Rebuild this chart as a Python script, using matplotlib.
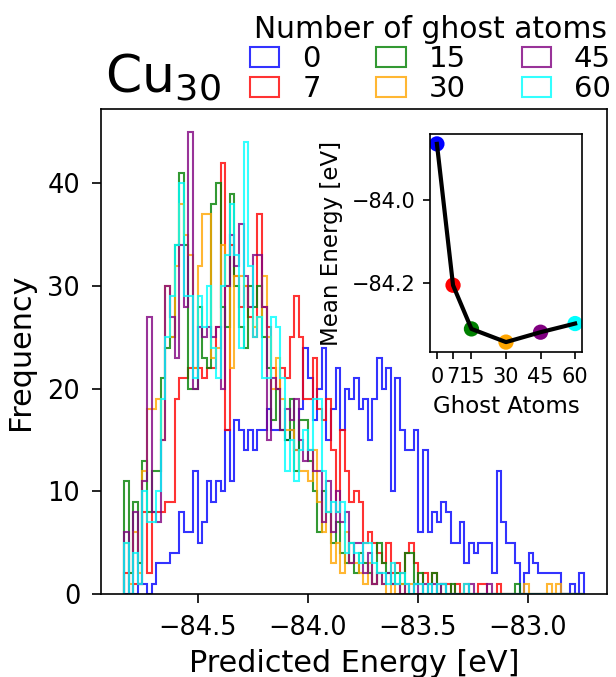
import matplotlib.pyplot as plt
import numpy as np

# common histogram grid (eV), 100 bins
e_lo, e_hi = -84.835, -82.745
n_bins = 100

ghost = [0, 7, 15, 30, 45, 60]
colors = ['blue', 'red', 'green', 'orange', 'purple', 'cyan']

# counts per bin
counts_0 = [0, 0, 0, 1, 1, 0, 1, 3, 3, 3,
            4, 4, 8, 6, 6, 12, 5, 7, 11, 9,
            11, 10, 16, 11, 17, 16, 14, 16, 14, 16,
            16, 18, 16, 16, 16, 15, 16, 14, 18, 24,
            21, 17, 20, 24, 15, 18, 22, 16, 20, 19,
            21, 18, 19, 15, 19, 23, 20, 22, 10, 21,
            16, 14, 14, 16, 6, 14, 6, 8, 7, 9,
            8, 5, 5, 7, 3, 5, 4, 5, 5, 5,
            2, 12, 7, 5, 5, 3, 0, 2, 4, 3,
            2, 2, 2, 2, 2, 0, 0, 1, 0, 2]
counts_7 = [2, 0, 1, 1, 8, 2, 8, 8, 8, 9,
            9, 19, 21, 21, 22, 22, 22, 21, 22, 22,
            26, 42, 16, 34, 31, 28, 30, 27, 25, 37,
            28, 26, 22, 20, 22, 21, 25, 29, 25, 19,
            19, 23, 18, 17, 19, 14, 8, 16, 12, 9,
            10, 9, 5, 6, 5, 4, 3, 5, 2, 3,
            2, 4, 5, 3, 1, 2, 1, 2, 1, 1,
            1, 0, 1, 0, 1, 0, 0, 1, 1, 0,
            0, 1, 0, 0, 0, 0, 0, 0, 0, 0,
            0, 0, 0, 0, 0, 0, 0, 0, 0, 0]
counts_15 = [11, 2, 9, 3, 13, 8, 12, 12, 21, 24,
             25, 34, 41, 34, 20, 20, 28, 23, 22, 38,
             40, 28, 26, 39, 30, 26, 24, 30, 28, 30,
             25, 22, 17, 20, 16, 15, 19, 12, 17, 17,
             13, 10, 6, 10, 8, 5, 7, 4, 3, 5,
             2, 4, 3, 2, 1, 5, 3, 2, 1, 2,
             1, 4, 4, 1, 2, 0, 1, 2, 0, 1,
             0, 1, 0, 0, 0, 0, 0, 0, 0, 0,
             0, 0, 0, 0, 0, 1, 0, 0, 0, 0,
             0, 0, 0, 0, 0, 0, 0, 0, 0, 0]
counts_30 = [5, 1, 6, 2, 12, 18, 18, 19, 15, 30,
             25, 32, 38, 35, 33, 22, 32, 37, 37, 23,
             24, 34, 30, 22, 31, 31, 30, 28, 26, 27,
             31, 25, 20, 23, 19, 16, 16, 14, 12, 12,
             11, 14, 9, 6, 8, 3, 5, 2, 6, 3,
             3, 2, 1, 3, 1, 2, 1, 0, 1, 0,
             1, 0, 1, 0, 0, 0, 0, 0, 0, 0,
             0, 0, 0, 0, 0, 0, 0, 0, 0, 0,
             0, 0, 0, 0, 0, 0, 0, 1, 0, 0,
             0, 0, 1, 0, 1, 0, 0, 0, 0, 0]
counts_45 = [6, 0, 8, 1, 11, 27, 8, 7, 15, 30,
             27, 23, 34, 28, 45, 20, 26, 25, 26, 25,
             26, 20, 30, 35, 32, 36, 31, 28, 33, 33,
             28, 15, 21, 20, 16, 18, 17, 19, 15, 13,
             14, 12, 12, 7, 11, 6, 10, 7, 8, 3,
             5, 5, 2, 4, 1, 2, 1, 2, 1, 1,
             0, 1, 0, 1, 0, 1, 0, 1, 0, 1,
             0, 0, 0, 0, 0, 1, 0, 0, 0, 1,
             0, 0, 0, 0, 0, 0, 0, 0, 0, 0,
             0, 0, 0, 0, 0, 0, 0, 0, 0, 0]
counts_60 = [5, 0, 4, 1, 10, 7, 7, 10, 19, 25,
             29, 34, 40, 29, 29, 21, 29, 26, 30, 24,
             21, 30, 33, 38, 33, 24, 44, 32, 25, 27,
             21, 21, 27, 26, 21, 12, 15, 11, 14, 16,
             14, 19, 19, 12, 8, 9, 8, 9, 4, 5,
             4, 3, 5, 5, 3, 2, 2, 1, 3, 1,
             2, 1, 0, 1, 1, 0, 1, 0, 1, 1,
             0, 0, 0, 0, 1, 0, 0, 0, 0, 0,
             0, 0, 0, 0, 0, 0, 0, 0, 0, 0,
             0, 0, 0, 0, 0, 0, 0, 0, 0, 0]
all_counts = [counts_0, counts_7, counts_15, counts_30, counts_45, counts_60]

# inset: mean predicted energy per number of ghost atoms
mean_energy = [-83.863, -84.206, -84.312, -84.344, -84.320, -84.299]

edges = np.linspace(e_lo, e_hi, n_bins + 1)
centers = 0.5 * (edges[:-1] + edges[1:])

fig = plt.figure(figsize=(616 / 150, 677 / 150), dpi=150)
ax = fig.add_axes([101 / 616, 83 / 677, 506 / 616, 485 / 677])

for g, c, cnt in zip(ghost, colors, all_counts):
    ax.hist(centers, bins=edges, weights=cnt, histtype='step',
            color=c, alpha=0.8, lw=1.0, label=str(g))

ax.set_xticks([-84.5, -84.0, -83.5, -83.0])
ax.set_yticks([0, 10, 20, 30, 40])
ax.tick_params(labelsize=12.3, length=4.5, pad=5.5)
ax.set_xlabel('Predicted Energy [eV]', fontsize=14.5)
ax.set_ylabel('Frequency', fontsize=14.5, labelpad=6)

fig.legend(loc='upper right', bbox_to_anchor=(611 / 616, 1 - 15 / 677),
           ncol=3, title='Number of ghost atoms', fontsize=14,
           title_fontsize=14.3, frameon=False, borderpad=0,
           borderaxespad=0, handlelength=1.0, labelspacing=0.05,
           columnspacing=1.9, handletextpad=0.8)

fig.text(105 / 616, 1 - 92 / 677, r'Cu$_{30}$', fontsize=25,
         ha='left', va='baseline')

# inset
axin = fig.add_axes([430 / 616, 325 / 677, 152 / 616, 218 / 677])
axin.scatter(ghost, mean_energy, c=colors, s=40, zorder=2)
axin.plot(ghost, mean_energy, color='black', lw=2, zorder=3)
axin.set_xticks(ghost)
axin.set_yticks([-84.2, -84.0])
axin.tick_params(labelsize=10)
axin.set_xlabel('Ghost Atoms', fontsize=11)
axin.set_ylabel('Mean Energy [eV]', fontsize=11)

fig.savefig('out.png', dpi=150)
